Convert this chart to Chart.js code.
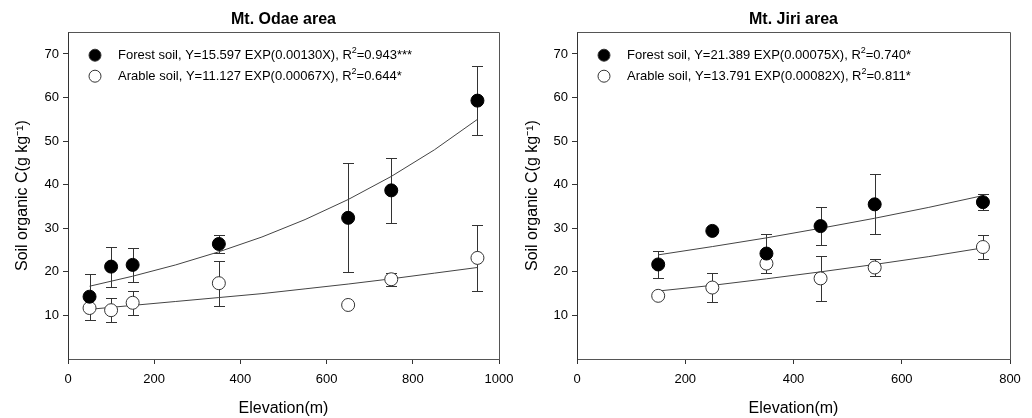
<!DOCTYPE html>
<html>
<head>
<meta charset="utf-8">
<script src="https://cdn.jsdelivr.net/npm/chart.js@4"></script>
<style>
  body { margin: 0; background: #fff; }
  #wrap { position: relative; width: 1032px; height: 418px; }
  .box { position: absolute; top: 0; width: 516px; height: 418px; }
</style>
</head>
<body>
<div id="wrap">
  <div class="box" style="left:0"><canvas id="odae" width="516" height="418"></canvas></div>
  <div class="box" style="left:516px"><canvas id="jiri" width="516" height="418"></canvas></div>
</div>
<script>
'use strict';
// Mt. Odae area
const odaeElev = [50, 100, 150, 350, 650, 750, 950];
const odaeForest = [14.3, 21.2, 21.6, 26.4, 32.4, 38.7, 59.3];
const odaeForestErr = [5.3, 4.6, 3.9, 2.1, 12.5, 7.5, 8.0];
const odaeArable = [11.7, 11.2, 12.9, 17.4, 12.4, 18.3, 23.2];
const odaeArableErr = [2.7, 2.8, 2.8, 5.2, 0, 1.5, 7.6];
// regression curves
const odaeFitElev = [50, 150, 250, 350, 450, 550, 650, 750, 850, 950];
const odaeForestFit = [16.7, 19.0, 21.6, 24.6, 28.0, 32.0, 36.6, 41.9, 48.0, 55.0];
const odaeArableFit = [11.4, 12.3, 13.2, 14.1, 15.0, 16.1, 17.2, 18.4, 19.7, 21.0];
const odaeXTicks = [0, 200, 400, 600, 800, 1000];

// Mt. Jiri area
const jiriElev = [150, 250, 350, 450, 550, 750];
const jiriForest = [21.7, 29.4, 24.2, 30.5, 35.5, 36.0];
const jiriForestErr = [3.2, 0, 4.4, 4.3, 6.9, 1.8];
const jiriArable = [14.5, 16.4, 21.9, 18.5, 21.0, 25.7];
const jiriArableErr = [0, 3.4, 2.1, 5.1, 1.9, 2.7];
const jiriFitElev = [150, 250, 350, 450, 550, 650, 750];
const jiriForestFit = [23.9, 25.8, 27.8, 30.0, 32.3, 34.8, 37.5];
const jiriArableFit = [15.6, 16.9, 18.4, 20.0, 21.7, 23.5, 25.5];
const jiriXTicks = [0, 200, 400, 600, 800];

const yTicks = [10, 20, 30, 40, 50, 60, 70];

Chart.defaults.font.family = '"Liberation Sans", Arial, sans-serif';
Chart.defaults.color = '#000';

function pairs(xs, ys) {
  return xs.map((x, i) => ({ x: x, y: ys[i] }));
}

const errorBars = {
  id: 'errorBars',
  beforeDatasetsDraw(chart) {
    const ctx = chart.ctx;
    const sx = chart.scales.x, sy = chart.scales.y;
    ctx.save();
    ctx.strokeStyle = '#333';
    ctx.lineWidth = 1;
    chart.data.datasets.forEach(ds => {
      if (!ds.errors) return;
      ds.data.forEach((p, i) => {
        const e = ds.errors[i];
        if (!e) return;
        const px = Math.round(sx.getPixelForValue(p.x)) + 0.5;
        const top = Math.round(sy.getPixelForValue(p.y + e)) + 0.5;
        const bot = Math.round(sy.getPixelForValue(p.y - e)) + 0.5;
        ctx.beginPath();
        ctx.moveTo(px, top); ctx.lineTo(px, bot);
        ctx.moveTo(px - 5.5, top); ctx.lineTo(px + 5.5, top);
        ctx.moveTo(px - 5.5, bot); ctx.lineTo(px + 5.5, bot);
        ctx.stroke();
      });
    });
    ctx.restore();
  }
};

const frame = {
  id: 'frame',
  afterDraw(chart) {
    const a = chart.chartArea, ctx = chart.ctx;
    ctx.save();
    ctx.strokeStyle = '#555';
    ctx.lineWidth = 1;
    ctx.beginPath();
    ctx.moveTo(Math.round(a.left) + 0.5, Math.round(a.top) + 0.5);
    ctx.lineTo(Math.round(a.right) + 0.5, Math.round(a.top) + 0.5);
    ctx.lineTo(Math.round(a.right) + 0.5, Math.round(a.bottom));
    ctx.stroke();
    ctx.restore();
  }
};

// legend inside the plot, with superscript 2
const inLegend = {
  id: 'inLegend',
  afterDraw(chart, args, opts) {
    const a = chart.chartArea, ctx = chart.ctx;
    ctx.save();
    opts.items.forEach((it, i) => {
      const y = a.top + 23 + i * 21;
      ctx.beginPath();
      ctx.arc(a.left + 27, y, 6, 0, Math.PI * 2);
      ctx.fillStyle = it.filled ? '#000' : '#fff';
      ctx.fill();
      ctx.strokeStyle = '#333';
      ctx.lineWidth = 1;
      ctx.stroke();
      ctx.fillStyle = '#000';
      ctx.textBaseline = 'middle';
      let x = a.left + 50;
      ctx.font = '13px "Liberation Sans", Arial, sans-serif';
      ctx.fillText(it.text[0], x, y);
      x += ctx.measureText(it.text[0]).width;
      ctx.font = '9px "Liberation Sans", Arial, sans-serif';
      ctx.fillText(it.text[1], x, y - 5);
      x += ctx.measureText(it.text[1]).width;
      ctx.font = '13px "Liberation Sans", Arial, sans-serif';
      ctx.fillText(it.text[2], x, y);
    });
    ctx.restore();
  }
};

function makeChart(id, o) {
  new Chart(document.getElementById(id), {
    type: 'scatter',
    data: {
      datasets: [
        { data: pairs(o.elev, o.forest), errors: o.forestErr, pointRadius: 6.5,
          pointBackgroundColor: '#000', pointBorderColor: '#000', pointBorderWidth: 1 },
        { data: pairs(o.elev, o.arable), errors: o.arableErr, pointRadius: 6.5,
          pointBackgroundColor: '#fff', pointBorderColor: '#333', pointBorderWidth: 1 },
        { data: pairs(o.fitElev, o.forestFit), showLine: true, pointRadius: 0,
          borderColor: '#444', borderWidth: 1 },
        { data: pairs(o.fitElev, o.arableFit), showLine: true, pointRadius: 0,
          borderColor: '#444', borderWidth: 1 }
      ]
    },
    options: {
      responsive: false,
      animation: false,
      layout: { padding: { top: 0, right: o.padRight, bottom: 0, left: 0 } },
      plugins: {
        legend: { display: false },
        tooltip: { enabled: false },
        title: {
          display: true, text: o.title, fullSize: false,
          font: { size: 16, weight: 'bold' }, color: '#000',
          padding: { top: 10, bottom: 3 }
        },
        inLegend: { items: o.legend }
      },
      scales: {
        x: {
          type: 'linear', min: 0, max: o.xMax,
          afterBuildTicks: s => { s.ticks = o.xTicks.map(v => ({ value: v })); },
          afterFit: s => { s.height = 59; s.paddingLeft = 0; s.paddingRight = 0; },
          grid: { drawOnChartArea: false, tickLength: 5, color: '#333' },
          border: { color: '#555' },
          ticks: { font: { size: 13 }, padding: 8, maxRotation: 0, callback: v => String(v) },
          title: { display: true, text: 'Elevation(m)', font: { size: 16 }, padding: { top: 4, bottom: 0 } }
        },
        y: {
          min: 0, max: 75,
          afterBuildTicks: s => { s.ticks = yTicks.map(v => ({ value: v })); },
          afterFit: s => { s.width = o.yWidth; },
          grid: { drawOnChartArea: false, tickLength: 5, color: '#333' },
          border: { color: '#333' },
          ticks: { font: { size: 13 }, padding: 4 },
          title: { display: true, text: 'Soil organic C(g kg\u207B\u00B9)', font: { size: 16 }, padding: { top: o.yTitlePad } }
        }
      }
    },
    plugins: [errorBars, frame, inLegend]
  });
}

makeChart('odae', {
  title: 'Mt. Odae area', xMax: 1000, xTicks: odaeXTicks, padRight: 17, yWidth: 68, yTitlePad: 13,
  elev: odaeElev, forest: odaeForest, forestErr: odaeForestErr,
  arable: odaeArable, arableErr: odaeArableErr,
  fitElev: odaeFitElev, forestFit: odaeForestFit, arableFit: odaeArableFit,
  legend: [
    { filled: true, text: ['Forest soil, Y=15.597 EXP(0.00130X), R', '2', '=0.943***'] },
    { filled: false, text: ['Arable soil, Y=11.127 EXP(0.00067X), R', '2', '=0.644*'] }
  ]
});

makeChart('jiri', {
  title: 'Mt. Jiri area', xMax: 800, xTicks: jiriXTicks, padRight: 22, yWidth: 61, yTitlePad: 7,
  elev: jiriElev, forest: jiriForest, forestErr: jiriForestErr,
  arable: jiriArable, arableErr: jiriArableErr,
  fitElev: jiriFitElev, forestFit: jiriForestFit, arableFit: jiriArableFit,
  legend: [
    { filled: true, text: ['Forest soil, Y=21.389 EXP(0.00075X), R', '2', '=0.740*'] },
    { filled: false, text: ['Arable soil, Y=13.791 EXP(0.00082X), R', '2', '=0.811*'] }
  ]
});
</script>
</body>
</html>
